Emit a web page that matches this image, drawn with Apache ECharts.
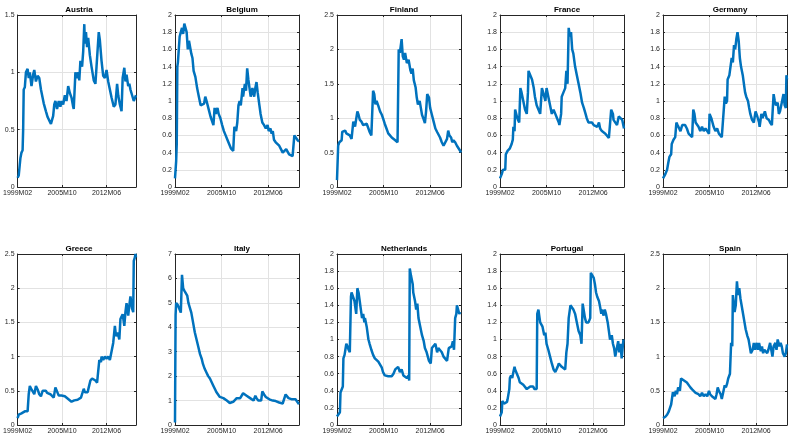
<!DOCTYPE html>
<html>
<head>
    <meta charset="utf-8" />
    <script src="https://cdn.jsdelivr.net/npm/echarts@6/dist/echarts.min.js"></script>
    <title>Euro area panels</title>
    <style>
        html, body { margin: 0; padding: 0; background: #fff; }
        #main { width: 792px; height: 446px; }
    </style>
</head>
<body>
    <div id="main"></div>
    <script type="text/javascript">
        // month index 0 = 1999M02
        var xTickValues = [0, 80, 160];
        var xTickLabels = ['1999M02', '2005M10', '2012M06'];
        var lastMonth = 213;

        var countries = ['Austria', 'Belgium', 'Finland', 'France', 'Germany',
            'Greece', 'Italy', 'Netherlands', 'Portugal', 'Spain'];
        var yMax = [1.5, 2, 2.5, 2, 2, 2.5, 7, 2, 2, 2.5];
        var yStep = [0.5, 0.2, 0.5, 0.2, 0.2, 0.5, 1, 0.2, 0.2, 0.5];

        // [month index, value]
        var austria = [[0,0.08],[2,0.1],[5,0.25],[7,0.3],[9,0.32],[10,0.5],[11,0.85],[13,0.87],[15,1.0],[18,1.03],[20,0.95],[22,1.0],[25,0.88],[28,0.98],[30,1.02],[33,0.92],[36,0.97],[39,0.95],[42,0.85],[47,0.73],[51,0.66],[54,0.61],[58,0.57],[60,0.55],[64,0.62],[66,0.72],[68,0.75],[71,0.68],[74,0.75],[77,0.7],[79,0.75],[82,0.72],[85,0.8],[88,0.75],[91,0.88],[94,0.82],[97,0.78],[100,0.7],[101,0.68],[104,1.0],[106,0.95],[109,1.0],[111,0.93],[113,1.1],[116,1.05],[118,1.18],[120,1.42],[121,1.25],[123,1.35],[125,1.22],[127,1.3],[130,1.15],[133,1.05],[137,0.93],[140,0.9],[142,1.05],[146,1.35],[148,1.28],[151,1.1],[154,0.97],[157,0.95],[160,1.02],[163,0.92],[166,0.85],[169,0.78],[173,0.7],[176,0.72],[179,0.9],[181,0.8],[184,0.72],[187,0.66],[189,0.95],[192,1.04],[194,0.92],[196,0.98],[199,0.88],[201,0.9],[203,0.85],[206,0.8],[209,0.75],[213,0.8]];
        var belgium = [[0,0.1],[2,0.3],[3,0.5],[4,1.4],[5,1.45],[7,1.45],[8,1.75],[10,1.8],[12,1.85],[14,1.78],[16,1.9],[18,1.85],[20,1.8],[22,1.6],[24,1.7],[27,1.68],[28,1.55],[30,1.5],[32,1.35],[35,1.28],[38,1.15],[41,1.05],[44,0.95],[47,0.95],[50,0.97],[52,1.05],[55,0.98],[58,0.9],[61,0.82],[64,0.8],[66,0.72],[68,0.92],[70,0.85],[73,0.92],[75,0.85],[78,0.8],[81,0.72],[84,0.65],[87,0.6],[90,0.55],[93,0.5],[96,0.45],[98,0.43],[100,0.42],[102,0.7],[105,0.65],[107,0.75],[109,0.95],[111,1.0],[113,0.95],[116,1.15],[117,1.05],[120,1.2],[122,1.12],[124,1.38],[126,1.25],[128,1.15],[130,1.05],[133,1.15],[136,1.05],[138,1.15],[140,1.22],[142,1.1],[145,0.95],[147,0.85],[150,0.75],[153,0.72],[156,0.68],[159,0.72],[161,0.65],[164,0.68],[166,0.62],[168,0.65],[170,0.55],[173,0.52],[176,0.5],[179,0.48],[182,0.44],[185,0.4],[188,0.4],[191,0.44],[193,0.42],[196,0.38],[199,0.37],[202,0.36],[205,0.6],[208,0.58],[211,0.54],[213,0.53]];
        var finland = [[0,0.1],[2,0.6],[4,0.65],[6,0.65],[8,0.68],[9,0.8],[12,0.78],[14,0.82],[16,0.78],[19,0.8],[22,0.75],[25,0.7],[28,0.95],[31,0.88],[33,0.9],[35,1.1],[37,1.05],[39,0.98],[42,0.95],[45,0.9],[48,0.88],[51,0.92],[54,0.85],[56,0.8],[59,0.75],[62,1.4],[64,1.35],[66,1.2],[68,1.25],[71,1.18],[74,1.1],[77,1.05],[79,1.0],[82,0.92],[85,0.85],[88,0.78],[91,0.75],[94,0.72],[97,0.7],[100,0.68],[102,0.67],[104,0.65],[106,2.0],[108,1.95],[111,2.15],[113,1.9],[115,1.85],[117,1.95],[120,1.8],[123,1.85],[126,1.7],[128,1.65],[130,1.72],[132,1.55],[135,1.45],[137,1.3],[139,1.2],[142,1.25],[144,1.15],[146,1.05],[149,0.98],[151,0.93],[153,1.1],[155,1.35],[158,1.3],[160,1.15],[163,1.05],[166,0.95],[169,0.85],[172,0.8],[174,0.78],[177,0.72],[180,0.65],[183,0.6],[186,0.62],[189,0.7],[191,0.82],[193,0.75],[196,0.72],[198,0.65],[200,0.68],[203,0.65],[206,0.6],[209,0.58],[212,0.52],[213,0.5]];
        var france = [[0,0.1],[1,0.1],[3,0.15],[5,0.2],[7,0.18],[9,0.2],[10,0.38],[13,0.42],[15,0.42],[17,0.45],[20,0.5],[22,0.55],[23,0.7],[25,0.65],[26,0.9],[29,0.82],[31,0.78],[33,0.75],[35,1.15],[37,1.1],[40,1.0],[43,0.9],[46,0.85],[48,1.1],[49,1.35],[52,1.3],[55,1.25],[58,1.15],[60,1.05],[63,0.95],[66,0.9],[69,0.85],[72,1.15],[75,1.08],[78,1.0],[80,1.15],[83,1.05],[86,0.95],[89,0.85],[92,0.9],[95,0.85],[98,0.8],[101,0.75],[102,0.72],[105,0.85],[106,1.05],[109,1.1],[112,1.15],[114,1.35],[116,1.2],[118,1.85],[120,1.75],[122,1.8],[124,1.6],[126,1.55],[129,1.4],[132,1.3],[135,1.2],[138,1.1],[141,0.98],[144,0.92],[147,0.85],[149,0.8],[152,0.75],[155,0.73],[158,0.75],[161,0.72],[164,0.73],[167,0.7],[170,0.75],[172,0.68],[175,0.65],[178,0.65],[181,0.62],[184,0.6],[187,0.57],[190,0.55],[191,0.9],[194,0.85],[195,0.78],[198,0.8],[201,0.72],[204,0.82],[207,0.8],[210,0.78],[213,0.68]];
        var germany = [[0,0.1],[1,0.1],[4,0.15],[7,0.2],[9,0.28],[11,0.35],[14,0.38],[15,0.5],[18,0.55],[21,0.58],[23,0.75],[25,0.72],[28,0.7],[30,0.65],[33,0.72],[36,0.7],[38,0.72],[41,0.68],[44,0.62],[47,0.6],[50,0.58],[52,0.9],[54,0.85],[56,0.75],[59,0.73],[61,0.7],[64,0.65],[67,0.7],[70,0.65],[73,0.68],[76,0.65],[79,0.62],[80,0.85],[83,0.8],[85,0.75],[87,0.7],[90,0.65],[93,0.68],[96,0.62],[99,0.6],[101,0.58],[104,0.6],[106,1.05],[108,0.97],[110,1.0],[111,1.25],[114,1.3],[116,1.28],[118,1.5],[120,1.45],[122,1.65],[124,1.6],[126,1.72],[128,1.8],[130,1.7],[132,1.5],[134,1.4],[137,1.3],[139,1.2],[141,1.1],[143,1.05],[146,1.0],[148,0.92],[150,0.85],[153,0.78],[156,0.75],[159,0.88],[162,0.82],[165,0.75],[166,0.7],[169,0.85],[171,0.8],[173,0.78],[175,0.88],[178,0.8],[180,0.82],[182,0.78],[184,0.75],[187,0.72],[190,1.08],[192,1.0],[194,0.95],[197,0.98],[199,0.85],[201,0.88],[204,0.98],[207,1.08],[209,0.95],[211,0.92],[212,1.3],[213,1.25]];
        var greece = [[0,0.1],[2,0.15],[5,0.17],[7,0.17],[10,0.18],[13,0.2],[16,0.22],[18,0.2],[20,0.45],[22,0.57],[25,0.52],[28,0.48],[30,0.45],[33,0.57],[36,0.52],[39,0.45],[42,0.42],[45,0.5],[48,0.52],[51,0.5],[53,0.47],[56,0.48],[59,0.45],[62,0.43],[65,0.4],[68,0.55],[70,0.55],[72,0.47],[74,0.43],[76,0.42],[79,0.43],[82,0.42],[85,0.42],[88,0.4],[91,0.38],[94,0.36],[97,0.34],[100,0.33],[102,0.36],[105,0.35],[108,0.37],[111,0.36],[114,0.4],[117,0.42],[119,0.53],[121,0.48],[123,0.5],[126,0.48],[128,0.55],[131,0.65],[134,0.68],[137,0.66],[140,0.65],[143,0.62],[146,0.6],[147,0.95],[150,0.92],[151,1.0],[154,0.95],[157,1.0],[160,0.97],[163,1.0],[166,0.95],[169,0.97],[172,1.2],[173,1.22],[175,1.45],[177,1.3],[180,1.35],[183,1.25],[185,1.55],[187,1.55],[189,1.62],[192,1.45],[194,1.65],[196,1.78],[199,1.6],[201,1.75],[203,1.88],[206,1.7],[208,1.65],[209,2.4],[211,2.45],[212,2.5],[213,2.45]];
        var italy = [[0,0.1],[1,4.5],[2,5.0],[5,4.9],[8,4.85],[10,4.6],[12,6.15],[14,5.6],[16,5.5],[18,5.45],[21,5.3],[23,5.0],[25,4.95],[28,4.6],[31,4.2],[34,3.8],[37,3.5],[40,3.2],[43,2.9],[46,2.7],[48,2.5],[51,2.3],[54,2.15],[57,2.0],[60,1.9],[63,1.75],[66,1.6],[69,1.45],[71,1.35],[74,1.25],[77,1.15],[80,1.1],[83,1.1],[86,1.05],[89,1.0],[92,0.95],[94,0.9],[97,0.9],[100,0.95],[103,1.0],[106,1.1],[109,1.05],[112,1.1],[115,1.15],[117,1.3],[120,1.25],[123,1.2],[126,1.15],[129,1.1],[132,1.05],[135,1.0],[138,1.2],[140,1.1],[143,1.0],[146,0.95],[148,1.0],[150,1.38],[153,1.25],[156,1.15],[159,1.1],[162,1.05],[165,1.1],[168,1.0],[170,1.05],[173,0.98],[176,0.95],[179,0.92],[182,0.9],[185,0.88],[188,0.85],[190,1.25],[192,1.2],[195,1.1],[198,1.05],[201,1.05],[204,1.0],[207,1.05],[210,0.95],[213,0.85]];
        var netherlands = [[0,0.1],[2,0.1],[5,0.15],[6,0.38],[8,0.38],[10,0.45],[11,0.78],[13,0.82],[15,0.8],[16,0.95],[18,0.92],[20,0.88],[22,0.85],[24,1.5],[25,1.55],[28,1.55],[30,1.45],[32,1.35],[33,1.3],[35,1.6],[37,1.55],[39,1.45],[41,1.35],[43,1.25],[45,1.3],[47,1.2],[48,1.25],[51,1.15],[54,1.0],[56,0.95],[59,0.88],[62,0.82],[65,0.78],[68,0.77],[71,0.74],[74,0.72],[77,0.67],[79,0.62],[82,0.58],[85,0.6],[88,0.57],[91,0.55],[94,0.57],[97,0.6],[100,0.65],[102,0.64],[105,0.68],[108,0.62],[111,0.65],[114,0.58],[117,0.57],[120,0.55],[123,0.58],[124,0.52],[125,1.83],[127,1.75],[130,1.65],[131,1.55],[134,1.45],[136,1.35],[138,1.42],[140,1.25],[143,1.15],[146,1.05],[149,0.98],[151,0.9],[154,0.85],[156,0.8],[158,0.75],[161,0.72],[163,0.9],[166,0.88],[169,0.95],[172,0.85],[174,0.9],[177,0.88],[180,0.85],[183,0.8],[186,0.78],[189,0.75],[190,0.73],[192,0.9],[194,0.88],[197,0.92],[199,0.98],[201,0.88],[203,1.25],[205,1.3],[206,1.4],[208,1.38],[210,1.3],[212,1.32],[213,1.3]];
        var portugal = [[0,0.1],[1,0.1],[3,0.15],[4,0.28],[6,0.28],[7,0.25],[9,0.27],[12,0.27],[13,0.3],[16,0.42],[17,0.55],[19,0.58],[21,0.55],[23,0.62],[25,0.68],[26,0.65],[29,0.6],[32,0.55],[34,0.5],[37,0.48],[40,0.47],[43,0.45],[46,0.42],[48,0.4],[49,0.44],[52,0.45],[54,0.44],[57,0.45],[59,0.42],[61,0.44],[63,0.42],[64,1.3],[66,1.35],[68,1.25],[69,1.2],[72,1.22],[73,1.15],[76,1.05],[78,1.08],[80,0.95],[83,0.88],[86,0.8],[89,0.72],[92,0.65],[95,0.62],[96,0.6],[99,0.68],[101,0.72],[103,0.7],[106,0.68],[109,0.67],[112,0.65],[114,0.85],[116,0.95],[118,1.25],[119,1.3],[121,1.4],[123,1.38],[126,1.35],[129,1.3],[132,1.2],[135,1.1],[138,1.05],[140,0.95],[142,1.42],[144,1.4],[146,1.25],[148,1.2],[150,1.22],[152,1.2],[155,1.25],[156,1.78],[158,1.8],[161,1.72],[163,1.65],[165,1.55],[167,1.5],[170,1.45],[172,1.38],[174,1.3],[175,1.35],[178,1.28],[180,1.35],[182,1.3],[185,1.2],[187,1.1],[189,1.0],[192,1.05],[194,0.95],[196,0.9],[198,0.8],[201,0.82],[203,0.98],[205,0.85],[207,0.95],[209,0.78],[211,0.78],[212,1.0],[213,1.0]];
        var spain = [[0,0.1],[1,0.1],[4,0.12],[7,0.15],[10,0.2],[12,0.25],[14,0.3],[16,0.32],[17,0.48],[20,0.42],[22,0.5],[24,0.45],[26,0.55],[29,0.5],[31,0.68],[33,0.68],[36,0.65],[38,0.65],[41,0.62],[44,0.6],[47,0.55],[50,0.52],[53,0.5],[56,0.47],[59,0.45],[61,0.45],[64,0.42],[67,0.47],[70,0.42],[73,0.45],[76,0.42],[79,0.5],[81,0.45],[84,0.42],[87,0.4],[90,0.38],[92,0.45],[94,0.55],[96,0.5],[99,0.45],[101,0.38],[103,0.4],[106,0.58],[108,0.55],[110,0.6],[112,0.68],[115,0.75],[117,1.2],[119,1.15],[120,1.9],[123,1.65],[125,1.75],[127,2.1],[129,1.9],[131,2.0],[133,1.85],[135,1.75],[138,1.6],[140,1.5],[142,1.4],[145,1.3],[147,1.25],[149,1.15],[151,1.05],[154,1.1],[156,1.2],[158,1.1],[161,1.2],[163,1.1],[165,1.2],[168,1.08],[170,1.15],[172,1.05],[174,1.1],[177,1.12],[179,1.05],[181,1.1],[184,1.2],[186,1.1],[188,1.0],[190,1.15],[193,1.2],[195,1.1],[197,1.25],[200,1.15],[202,1.2],[204,1.15],[206,1.05],[209,1.0],[211,1.05],[213,1.18]];

        var seriesData = [austria, belgium, finland, france, germany,
            greece, italy, netherlands, portugal, spain];

        var colLeft = [12, 175, 337, 500, 663];
        var plotWidth = 124;
        var rowTop = [15, 254];
        var plotHeight = [172, 171];
        var textColor = '#262626';
        var fontFam = 'Liberation Sans, Arial, sans-serif';

        var chart = echarts.init(document.getElementById('main'), null, { renderer: 'canvas' });

        function boxAxis(i, pos, min, max, step) {
            // extra axis so the box gets ticks on top/right like the original
            return {
                gridIndex: i, type: 'value', position: pos, min: min, max: max, interval: step,
                axisLine: { show: true, onZero: false, lineStyle: { color: textColor, width: 1 } },
                axisTick: { show: true, inside: true, length: 2, lineStyle: { color: textColor } },
                splitLine: { show: false },
                axisLabel: { show: false }
            };
        }

        var grids = [], titles = [], xAxes = [], yAxes = [], series = [];
        countries.forEach(function (name, i) {
            var row = Math.floor(i / 5), col = i % 5;
            grids.push({
                left: colLeft[col], top: rowTop[row],
                width: plotWidth, height: plotHeight[row]
            });
            titles.push({
                text: name,
                left: colLeft[col] + plotWidth / 2,
                top: rowTop[row] - 14,
                textAlign: 'center',
                textStyle: { fontFamily: fontFam, fontSize: 8, fontWeight: 'bold', color: '#000' }
            });
            xAxes.push({
                gridIndex: i, type: 'value', min: 0, max: lastMonth, interval: 80,
                axisLine: { show: true, onZero: false, lineStyle: { color: textColor, width: 1 } },
                axisTick: { show: true, inside: true, length: 2, lineStyle: { color: textColor } },
                splitLine: { show: true, lineStyle: { color: '#e2e2e2', width: 1 } },
                axisLabel: {
                    show: true, margin: 3, fontSize: 7, color: textColor, fontFamily: fontFam,
                    showMaxLabel: false,
                    formatter: function (v) {
                        var k = xTickValues.indexOf(v);
                        return k >= 0 ? xTickLabels[k] : '';
                    }
                }
            });
            xAxes.push(boxAxis(i, 'top', 0, lastMonth, 80));
            yAxes.push({
                gridIndex: i, type: 'value', min: 0, max: yMax[i], interval: yStep[i],
                axisLine: { show: true, onZero: false, lineStyle: { color: textColor, width: 1 } },
                axisTick: { show: true, inside: true, length: 2, lineStyle: { color: textColor } },
                splitLine: { show: true, lineStyle: { color: '#e2e2e2', width: 1 } },
                axisLabel: { show: true, margin: 3, fontSize: 7, color: textColor, fontFamily: fontFam }
            });
            yAxes.push(boxAxis(i, 'right', 0, yMax[i], yStep[i]));
            series.push({
                name: name, type: 'line',
                xAxisIndex: 2 * i, yAxisIndex: 2 * i,
                data: seriesData[i],
                showSymbol: false, symbol: 'none',
                lineStyle: { color: '#0072BD', width: 2.5 },
                clip: true
            });
        });

        chart.setOption({
            animation: false,
            backgroundColor: '#fff',
            title: titles,
            grid: grids,
            xAxis: xAxes,
            yAxis: yAxes,
            series: series
        });
    </script>
</body>
</html>
